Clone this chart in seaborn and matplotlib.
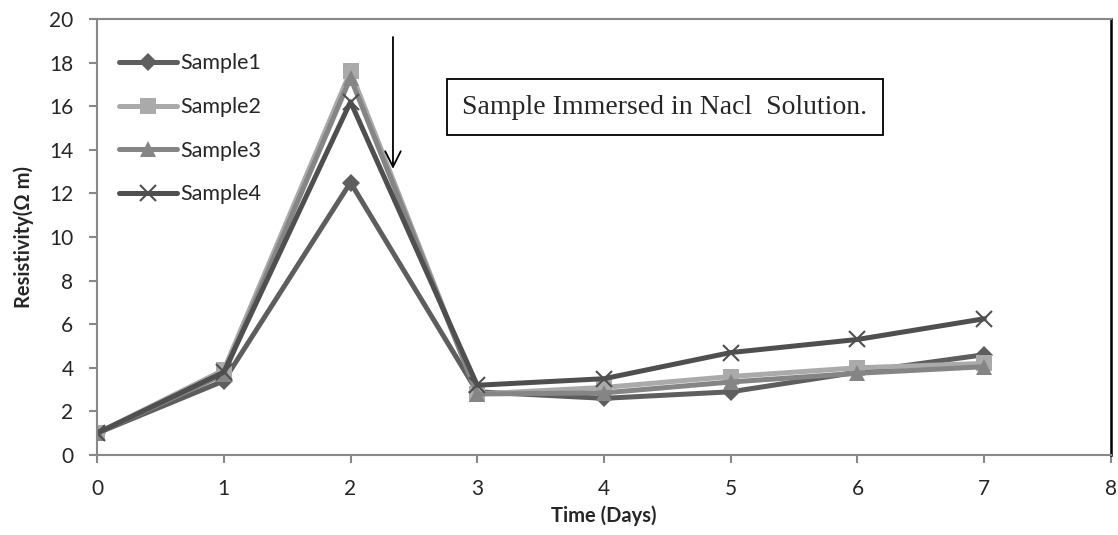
import matplotlib
matplotlib.use("Agg")
import matplotlib.pyplot as plt
import seaborn as sns
import pandas as pd

days = [0, 1, 2, 3, 4, 5, 6, 7]
sample1 = [1.0, 3.4, 12.5, 2.9, 2.6, 2.9, 3.8, 4.6]
sample2 = [1.0, 3.9, 17.6, 2.8, 3.1, 3.6, 4.0, 4.2]
sample3 = [1.0, 3.7, 17.3, 2.8, 2.85, 3.35, 3.75, 4.05]
sample4 = [1.0, 3.8, 16.2, 3.2, 3.5, 4.7, 5.3, 6.25]
series_names = ["Sample1", "Sample2", "Sample3", "Sample4"]
x_ticks = [0, 1, 2, 3, 4, 5, 6, 7, 8]
y_ticks = [0, 2, 4, 6, 8, 10, 12, 14, 16, 18, 20]
annotation = "Sample Immersed in Nacl  Solution."

sns.set_style("white")
plt.rcParams["font.family"] = ["Lato", "DejaVu Sans"]

df = pd.DataFrame({
    "Day": days * 4,
    "Value": sample1 + sample2 + sample3 + sample4,
    "Series": sum([[n] * len(days) for n in series_names], []),
})

colors = {"Sample1": "#5e5e5e", "Sample2": "#aaaaaa", "Sample3": "#858585", "Sample4": "#4f4f4f"}
markers = {"Sample1": "D", "Sample2": "s", "Sample3": "^", "Sample4": "x"}
msizes = {"Sample1": 9, "Sample2": 12, "Sample3": 12, "Sample4": 12}

fig = plt.figure(figsize=(11.18, 5.35), dpi=100)
ax = fig.add_axes([0.0868, 0.1495, 0.9069, 0.815])

for name in series_names:
    sub = df[df["Series"] == name]
    sns.lineplot(data=sub, x="Day", y="Value", ax=ax, color=colors[name],
                 linewidth=3.6, marker=markers[name], markersize=msizes[name],
                 markeredgewidth=1.5 if name == "Sample4" else 0,
                 markeredgecolor=colors[name], label=name, legend=True)

ax.set_xlim(0, 8)
ax.set_ylim(0, 20)
ax.set_xticks(x_ticks)
ax.set_yticks(y_ticks)
ax.tick_params(axis="both", labelsize=15, length=6, width=1.5, color="#888888",
               direction="out", bottom=True, left=True, pad=11)
ax.set_xlabel("Time (Days)", fontsize=14.5, fontweight="bold")
ax.set_ylabel("Resistivity(Ω m)", fontsize=14.5, fontweight="bold")
ax.xaxis.set_label_coords(0.5, -0.115)
ax.yaxis.set_label_coords(-0.062, 0.5)

for s in ["left", "bottom", "top"]:
    ax.spines[s].set_color("#888888")
    ax.spines[s].set_linewidth(1.5)
ax.spines["right"].set_color("#000000")
ax.spines["right"].set_linewidth(1.8)

leg = ax.legend(loc="upper left", bbox_to_anchor=(0.022, 0.921), frameon=False,
                fontsize=15.5, handlelength=2.7, handletextpad=0.12,
                labelspacing=1.1, borderaxespad=0.0, borderpad=0.0)

ax.annotate("", xy=(2.335, 13.0), xytext=(2.335, 19.3),
            arrowprops=dict(arrowstyle="->", color="black", lw=1.3,
                            mutation_scale=28))

ax.text(4.48, 15.96, annotation, fontsize=20, family="Liberation Serif",
        ha="center", va="center",
        bbox=dict(boxstyle="square,pad=0.55", facecolor="white",
                  edgecolor="black", linewidth=1.3))

fig.savefig("out.png", dpi=100)
